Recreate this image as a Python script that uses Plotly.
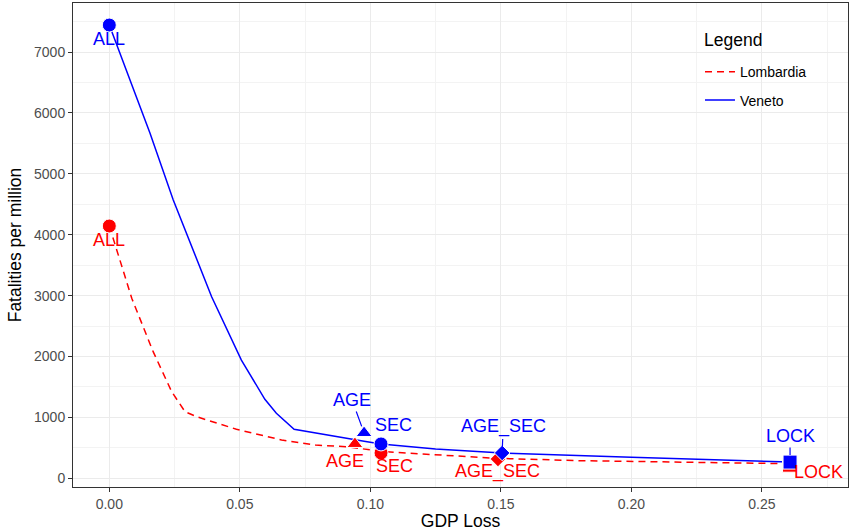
import plotly.graph_objects as go

# ---- data ----
policies = ["ALL", "AGE", "SEC", "AGE_SEC", "LOCK"]
symbols = ["circle", "triangle-up", "circle", "diamond", "square"]

lomb_x = [0.0, 0.0941, 0.1041, 0.1489, 0.2606]
lomb_y = [4143, 564, 416, 317, 215]
ven_x = [0.0, 0.0976, 0.1041, 0.1505, 0.2608]
ven_y = [7443, 744, 564, 416, 266]

lomb_front_x = [0.0, 0.0086, 0.0168, 0.0239, 0.029, 0.0334, 0.0487, 0.066, 0.079, 0.091, 0.105, 0.1484, 0.1803, 0.2606]
lomb_front_y = [4143, 2956, 2079, 1422, 1094, 1012, 805, 629, 545, 519, 437, 328, 289, 240]
ven_front_x = [0.0, 0.0156, 0.0245, 0.0321, 0.0392, 0.0506, 0.0596, 0.064, 0.0708, 0.0976, 0.1041, 0.125, 0.1505, 0.2, 0.2608]
ven_front_y = [7443, 5665, 4570, 3749, 2982, 1942, 1297, 1067, 805, 610, 564, 480, 416, 345, 266]

RED = "#ff0000"
BLUE = "#0000ff"
FONT = "Liberation Sans, Arial, sans-serif"

fig = go.Figure()

fig.add_trace(go.Scatter(x=lomb_front_x, y=lomb_front_y, mode="lines", name="Lombardia",
                         legendgroup="l", line=dict(color=RED, width=1.5, dash="7px,5px")))
fig.add_trace(go.Scatter(x=ven_front_x, y=ven_front_y, mode="lines", name="Veneto",
                         legendgroup="v", line=dict(color=BLUE, width=1.5)))

def msize(s):
    return 12 if s == "diamond" else 14

fig.add_trace(go.Scatter(x=lomb_x, y=lomb_y, mode="markers", showlegend=False,
                         marker=dict(color=RED, symbol=symbols, opacity=1,
                                     size=[msize(s) for s in symbols])))
fig.add_trace(go.Scatter(x=ven_x, y=ven_y, mode="markers", showlegend=False,
                         marker=dict(color=BLUE, symbol=symbols, opacity=1,
                                     size=[msize(s) for s in symbols])))

# label offsets (pixels): (dx, dy, use_segment) ; dy positive = down
ven_off = {"ALL": (0, 14, False), "AGE": (-12, -33, True), "SEC": (12, -19, False),
           "AGE_SEC": (1, -26, True), "LOCK": (0, -26, True)}
lomb_off = {"ALL": (0, 14, False), "AGE": (-10, 17, False), "SEC": (13, 13, False),
            "AGE_SEC": (0, 13, False), "LOCK": (29, 7, False)}

def add_labels(xs, ys, offs, color):
    for p, x, y in zip(policies, xs, ys):
        dx, dy, seg = offs[p]
        if seg:
            fig.add_annotation(x=x, y=y, text=p, showarrow=True, ax=dx, ay=dy,
                               arrowhead=0, arrowwidth=1.2, arrowcolor=color, standoff=7,
                               font=dict(color=color, size=18, family=FONT))
        else:
            fig.add_annotation(x=x, y=y, text=p, showarrow=False, xshift=dx, yshift=-dy,
                               font=dict(color=color, size=18, family=FONT))

add_labels(ven_x, ven_y, ven_off, BLUE)
add_labels(lomb_x, lomb_y, lomb_off, RED)

axis_common = dict(showline=True, linecolor="#333333", linewidth=1, mirror=True,
                   ticks="outside", ticklen=4, tickcolor="#333333", tickwidth=1,
                   gridcolor="#ebebeb", gridwidth=1, zeroline=False, automargin=False,
                   tickfont=dict(color="#4d4d4d", size=14, family=FONT))

fig.update_xaxes(range=[-0.01391, 0.2830], tick0=0, dtick=0.05, tickformat=".2f",
                 minor=dict(dtick=0.025, showgrid=True, gridcolor="#f3f3f3", gridwidth=0.6),
                 title=dict(text="GDP Loss", font=dict(size=17.5, color="black", family=FONT), standoff=8),
                 **axis_common)
fig.update_yaxes(range=[-143, 7805], tick0=0, dtick=1000,
                 minor=dict(dtick=500, showgrid=True, gridcolor="#f3f3f3", gridwidth=0.6),
                 title=dict(text="Fatalities per million", font=dict(size=17.5, color="black", family=FONT), standoff=7),
                 **axis_common)

# legend box background (covers title + keys like ggplot's legend box)
fig.add_shape(type="rect", xref="paper", yref="paper", x0=0.8077, x1=0.9548, y0=0.7645, y1=0.9504,
              fillcolor="white", line=dict(width=0), layer="between")
fig.add_annotation(xref="paper", yref="paper", x=0.8116, y=0.9236, xanchor="left", yanchor="middle",
                   text="Legend", showarrow=False, font=dict(size=17.5, color="black", family=FONT))

fig.update_layout(
    width=854, height=531,
    margin=dict(l=73, r=6, t=3, b=44, autoexpand=False),
    plot_bgcolor="white", paper_bgcolor="white",
    font=dict(family=FONT),
    legend=dict(x=0.809, y=0.890, xanchor="left", yanchor="top",
                bgcolor="rgba(0,0,0,0)", font=dict(size=14, color="black"),
                itemwidth=30, tracegroupgap=7),
)

fig.write_html("out.html", config={"displayModeBar": False},
               post_script="document.body.style.margin='0';")
